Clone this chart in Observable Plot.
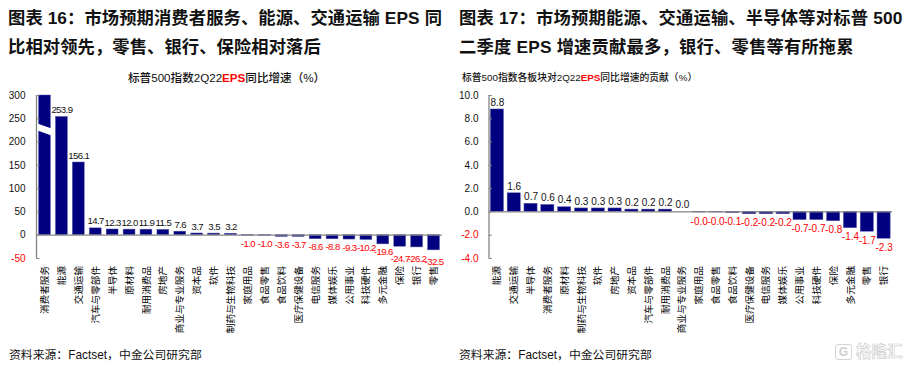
<!DOCTYPE html>
<html><head><meta charset="utf-8">
<script src="https://cdn.jsdelivr.net/npm/d3@7"></script>
<script src="https://cdn.jsdelivr.net/npm/@observablehq/plot@0.6"></script>
<style>
html,body{margin:0;padding:0;background:#fff;width:909px;height:370px;overflow:hidden}
body{font-family:"Liberation Sans","Noto Sans CJK SC",sans-serif;color:#111;position:relative}
.abs{position:absolute;white-space:nowrap}
.title{font-weight:700;font-size:17.3px;line-height:29px;letter-spacing:.1px}
.sub{font-size:11.6px;line-height:14px;font-weight:500}
.sub b{color:#f00;font-weight:700}
.src{font-size:11.85px;line-height:16px}
svg{display:block;position:absolute;overflow:visible}
.narrow text{letter-spacing:-.6px}
.wm{color:#fff;-webkit-text-stroke:.7px #cfcfcf;font-size:15.5px;font-weight:700;line-height:18px}
.wmg{width:15px;height:14px;border:1.6px solid #d4d4d4;border-radius:3px;color:#cfcfcf;font:700 12px/14px "Liberation Sans";text-align:center}
</style></head><body>
<div class="abs title" style="left:8px;top:4px">图表 16&#xFF1A;市场预期消费者服务、能源、交通运输 EPS 同<br>比相对领先&#xFF0C;零售、银行、保险相对落后</div>
<div class="abs title" style="left:459px;top:4px;letter-spacing:.2px">图表 17&#xFF1A;市场预期能源、交通运输、半导体等对标普 500<br>二季度 EPS 增速贡献最多&#xFF0C;银行、零售等有所拖累</div>
<div class="abs sub" style="left:128px;top:71px">标普500指数2Q22<b>EPS</b>同比增速&#xFF08;%&#xFF09;</div>
<div class="abs sub" style="left:462px;top:71px;font-size:9.8px">标普500指数各板块对2Q22<b>EPS</b>同比增速的贡献&#xFF08;%&#xFF09;</div>
<div id="left"></div><div id="right"></div>
<div class="abs src" style="left:9px;top:347px">资料来源&#xFF1A;Factset&#xFF0C;中金公司研究部</div>
<div class="abs src" style="left:459px;top:347px">资料来源&#xFF1A;Factset&#xFF0C;中金公司研究部</div>
<div class="abs wmg" style="left:835px;top:344px">G</div>
<div class="abs wm" style="left:856px;top:343px">格隆汇</div>
<script>
const leftCats=["消费者服务","能源","交通运输","汽车与零部件","半导体","原材料","耐用消费品","房地产","商业与专业服务","资本品","软件","制药与生物科技","家庭用品","食品零售","食品饮料","医疗保健设备","电信服务","媒体娱乐","公用事业","科技硬件","多元金融","保险","银行","零售"];
const leftVals=[300,253.9,156.1,14.7,12.3,12.0,11.9,11.5,7.6,3.7,3.5,3.2,-1.0,-1.0,-3.6,-3.7,-8.6,-8.8,-9.3,-10.2,-19.6,-24.7,-26.2,-32.5];
const leftTicks=[-50,0,50,100,150,200,250,300];
const rightCats=["能源","交通运输","半导体","消费者服务","原材料","制药与生物科技","软件","房地产","资本品","汽车与零部件","耐用消费品","商业与专业服务","家庭用品","食品零售","食品饮料","医疗保健设备","电信服务","媒体娱乐","公用事业","科技硬件","保险","多元金融","零售","银行"];
const rightVals=[8.8,1.6,0.7,0.6,0.4,0.3,0.3,0.3,0.2,0.2,0.2,0.0,-0.04,-0.04,-0.1,-0.2,-0.2,-0.2,-0.7,-0.7,-0.8,-1.4,-1.7,-2.3];
const rightTicks=[-4,-2,0,2,4,6,8,10];
const breakX=[-0.42,0.42];
const breakHi=[239,228];
const breakLo=[224,213];
const FONT='"Liberation Sans","Noto Sans CJK SC",sans-serif';
const AXIS="#848484",BAR="#000080";

function chart(o){
  const rows=o.vals.map((v,i)=>({i,v,cat:o.cats[i],label:o.hide&&o.hide.includes(i)?"":v.toFixed(1)}));
  const w=o.bw/2;
  const cls=o.narrow?"narrow":undefined;
  const marks=[
    Plot.rectY(rows,{x1:d=>d.i-w,x2:d=>d.i+w,y1:0,y2:"v",fill:BAR,stroke:"#5a5aa8",strokeWidth:.5}),
    ...(o.brk?[Plot.areaY(o.brk,{x:"x",y1:"lo",y2:"hi",fill:"white"})]:[]),
    Plot.ruleY([0],{stroke:AXIS,strokeWidth:1.3}),
    Plot.ruleX([-0.5],{y1:o.domain[0],y2:o.domain[1],stroke:AXIS,strokeWidth:1.3}),
    Plot.ruleY(o.ticks,{x1:-0.5,x2:-0.3,stroke:AXIS,strokeWidth:1}),
    Plot.axisY({ticks:o.ticks.filter(t=>t>=0),tickSize:0,tickPadding:o.pad,fill:"#111",fontSize:o.tickFs,tickFormat:o.fmt,label:null}),
    Plot.axisY({ticks:o.ticks.filter(t=>t<0),tickSize:0,tickPadding:o.pad,fill:"#f00",fontSize:o.tickFs,tickFormat:o.fmt,label:null}),
    Plot.text(rows.filter(d=>d.v>=0),{x:"i",y:"v",text:"label",dy:-7,fill:"#111",fontSize:o.labFs,className:cls}),
    Plot.text(rows.filter(d=>d.v<0&&d.v>o.deep),{x:"i",y:"v",text:"label",dy:o.negDy,fill:"#f00",fontSize:o.labFs,className:cls}),
    Plot.text(rows.filter(d=>d.v<=o.deep),{x:"i",y:"v",text:"label",dy:o.deepDy,fill:"#f00",fontSize:o.labFs,className:cls}),
    Plot.text(rows,{x:"i",y:o.domain[0],text:"cat",rotate:-90,textAnchor:"end",dy:7.5,fill:"#000",fontSize:9.6})
  ];
  const svg=Plot.plot({width:o.width,height:o.height,marginTop:10,marginBottom:o.height-10-(258-95),marginLeft:o.ml,marginRight:o.mr,
    style:{fontFamily:FONT,background:"transparent",overflow:"visible"},
    x:{domain:[-0.5,23.5],axis:null},y:{domain:o.domain,axis:null,label:null},marks});
  svg.style.left=o.left+"px";svg.style.top="85px";
  return svg;
}
document.getElementById("left").append(chart({cats:leftCats,vals:leftVals,ticks:leftTicks,domain:[-50,300],bw:.7,hide:[0],narrow:true,deep:-20,deepDy:12,
  fmt:d=>String(d),brk:breakX.map((x,k)=>({x,hi:breakHi[k],lo:breakLo[k]})),left:0,width:455,height:255,ml:36,mr:13,pad:11,tickFs:10,labFs:9.6,negDy:8}));
document.getElementById("right").append(chart({cats:rightCats,vals:rightVals,ticks:rightTicks,domain:[-4,10],bw:.78,deep:-100,deepDy:9,
  fmt:d=>d.toFixed(1),left:455,width:454,height:255,ml:33.5,mr:17,pad:10.5,tickFs:10,labFs:10,negDy:9}));
</script>
</body></html>
